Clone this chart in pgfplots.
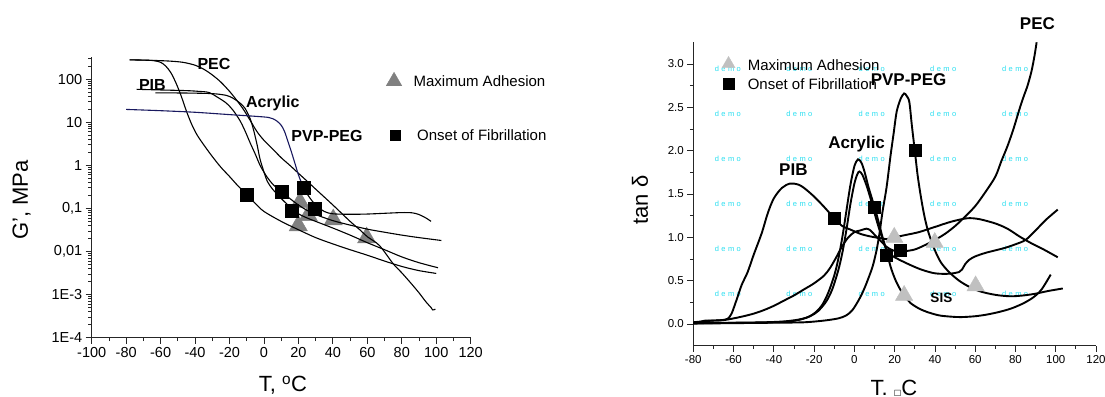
\documentclass[border=0pt]{standalone}
\usepackage{fontspec}
\setmainfont{Liberation Sans}
\newfontfamily\dejavu{DejaVu Sans}
\usepackage{pgfplots}
\pgfplotsset{compat=1.18}
\definecolor{navy}{RGB}{25,25,95}
\definecolor{trileft}{RGB}{128,128,128}
\definecolor{triright}{RGB}{192,192,192}
\definecolor{demo}{RGB}{40,222,240}
\newcommand{\fs}[1]{\fontsize{#1}{#1}\selectfont}
\begin{document}
\begin{tikzpicture}[x=1pt,y=1pt]
\path[use as bounding box] (0,0) rectangle (1105,396);
% watermark text of the right panel
\foreach \xx in {727.9,799.4,871.7,943.2,1015.1}{
  \foreach \yy in {327.3,282.3,237.4,192.3,147.3,102.3}{
    \node[text=demo,font=\fs{7.5}] at (\xx,\yy) {d\hspace{2.4pt}e\hspace{2.4pt}m\hspace{2.4pt}o};
  }
}
% ---------------- left panel ----------------
\begin{axis}[
  at={(91.7pt,58.3pt)}, anchor=south west, scale only axis,
  width=379pt, height=281pt,
  xmin=-100, xmax=120, ymode=log, ymin=1e-4, ymax=331,
  axis x line*=bottom, axis y line*=left,
  xtick={-100,-80,...,120},
  xticklabels={-100,-80,-60,-40,-20,0,20,40,60,80,100,120},
  minor x tick num=1,
  ytick={1e-4,1e-3,0.01,0.1,1,10,100},
  yticklabels={1E-4,1E-3,{0,01},{0,1},1,10,100},
  minor ytick={2e-4,3e-4,4e-4,5e-4,6e-4,7e-4,8e-4,9e-4,
    2e-3,3e-3,4e-3,5e-3,6e-3,7e-3,8e-3,9e-3,
    0.02,0.03,0.04,0.05,0.06,0.07,0.08,0.09,
    0.2,0.3,0.4,0.5,0.6,0.7,0.8,0.9,
    2,3,4,5,6,7,8,9,20,30,40,50,60,70,80,90,200,300},
  tick align=outside, major tick length=6pt, minor tick length=3.5pt,
  every tick/.style={black!85, line width=0.8pt},
  axis line style={black!85, line width=0.8pt},
  ticklabel style={font=\fs{14.5}},
  clip mode=individual,
]
% triangles (behind lines)
\addplot[only marks, mark=triangle*, mark size=10.5pt, trileft] coordinates {
 (20.9,0.14) (25.7,0.069) (19.9,0.04) (40.2,0.055) (59.6,0.021)};
% PEC
\addplot[black, line width=1.1pt, smooth] coordinates {
 (-78,280) (-65,272) (-55,262) (-47,245) (-40,210) (-35,170) (-30,125) (-25,85)
 (-20,52) (-16,33) (-12,20) (-8,11) (-4,6) (0,3.8) (5,2.4) (10,1.5) (15,1.0)
 (21,0.6) (25,0.43) (30,0.28) (40,0.12) (50,0.05) (56,0.031) (60,0.022)
 (67,0.0138) (75,0.0052) (80,0.0032) (85,0.0019) (90,0.0011) (94,0.00068)
 (97,0.0005) (98,0.00044) (99.5,0.00046)};
% early drop curve
\addplot[black, line width=1.1pt, smooth] coordinates {
 (-78,280) (-70,276) (-64,268) (-60,245) (-57,200) (-54,140) (-51,80) (-48,40)
 (-45,18) (-42,9) (-39,5.2) (-35,3) (-30,1.6) (-25,0.9) (-20,0.55) (-15,0.33)
 (-10,0.21) (-5,0.13) (0,0.085) (10,0.05) (20,0.032) (30,0.021) (40,0.015)
 (50,0.011) (60,0.0082) (70,0.006) (80,0.0045) (90,0.0036) (100,0.0031)};
% PIB
\addplot[black, line width=1.1pt, smooth] coordinates {
 (-73.9,58) (-60,56) (-45,54) (-38,52) (-32,49) (-27,38) (-22,28) (-18,19)
 (-14,11) (-11,6.3) (-8,3.3) (-5,1.8) (-2,0.95) (2,0.52) (5.5,0.35) (10,0.25)
 (15,0.17) (20,0.12) (25,0.09) (30,0.072) (40,0.052) (50,0.041) (60,0.033)
 (70,0.028) (80,0.024) (90,0.021) (103,0.018)};
% Acrylic
\addplot[black, line width=1.1pt, smooth] coordinates {
 (-63,48) (-45,47.5) (-30,46) (-22,42) (-18,36) (-14,28) (-11,21) (-8,12)
 (-6,6.5) (-4,3) (-2.3,1.4) (0,0.7) (2,0.42) (5,0.28) (10,0.17) (16,0.1)
 (20,0.075) (25,0.06) (30,0.05) (40,0.035) (50,0.024) (60,0.016) (70,0.011)
 (80,0.0075) (90,0.0055) (101,0.0042)};
% PVP-PEG
\addplot[navy, line width=1.1pt, smooth] coordinates {
 (-80,19.8) (-60,18.5) (-40,17) (-20,15) (-5,13.7) (3,12.8) (7,11) (10,8.5)
 (12,6) (14,3.5) (16,2) (18,1.1) (20,0.6) (21.5,0.42) (23,0.3)};
\addplot[black, line width=1.1pt, smooth] coordinates {
 (23,0.3) (26,0.19) (30,0.12) (35,0.085) (40,0.075) (50,0.073) (60,0.074)
 (70,0.077) (80,0.08) (86,0.079) (90,0.072) (94,0.06) (97,0.05)};
% squares
\addplot[only marks, mark=square*, mark size=6.5pt, black] coordinates {
 (-10,0.21) (10.3,0.25) (16.1,0.089) (22.8,0.3) (29.6,0.1)};
% legend markers
\addplot[only marks, mark=triangle*, mark size=9pt, trileft] coordinates {(75.5,89)};
\addplot[only marks, mark=square*, mark size=5pt, black] coordinates {(76.1,5.0)};
\node[anchor=west, font=\fs{15}] at (axis cs:84.8,89) {Maximum Adhesion};
\node[anchor=west, font=\fs{15}] at (axis cs:86.9,5.0) {Onset of Fibrillation};
% curve labels
\node[font=\bfseries\fs{16}] at (axis cs:-29,224) {PEC};
\node[font=\bfseries\fs{16}] at (axis cs:-64.8,72) {PIB};
\node[font=\bfseries\fs{16}] at (axis cs:5.1,27.5) {Acrylic};
\node[font=\bfseries\fs{16}] at (axis cs:36.6,4.8) {PVP-PEG};
\end{axis}
\node[rotate=90, font=\fs{22}] at (21.6,196) {G', MPa};
\node[anchor=base, font=\fs{22}] at (283,4.3) {T, \textsuperscript{o}C};
% ---------------- right panel ----------------
\begin{axis}[
  at={(693.3pt,50.3pt)}, anchor=south west, scale only axis,
  width=402.7pt, height=303.4pt,
  xmin=-80, xmax=120, ymin=-0.25, ymax=3.25,
  axis x line*=bottom, axis y line*=left,
  xtick={-80,-60,...,120},
  xticklabels={-80,-60,-40,-20,0,20,40,60,80,100,120},
  minor x tick num=1,
  ytick={0,0.5,1,1.5,2,2.5,3},
  yticklabels={0.0,0.5,1.0,1.5,2.0,2.5,3.0},
  minor y tick num=1,
  tick align=outside, major tick length=6pt, minor tick length=3.5pt,
  every tick/.style={black!85, line width=0.8pt},
  axis line style={black!85, line width=0.8pt},
  ticklabel style={font=\fs{11.5}},
  clip mode=individual,
]
% PIB
\addplot[black, line width=1.9pt, smooth] coordinates {
 (-80,0.02) (-76,0.03) (-74,0.04) (-70,0.04) (-66,0.045) (-63,0.06) (-61,0.12)
 (-58.5,0.28) (-56,0.45) (-53,0.6) (-50,0.8) (-46,1.05) (-43,1.28) (-40,1.45)
 (-36,1.57) (-32,1.62) (-28,1.61) (-25,1.57) (-20,1.47) (-15,1.35) (-10,1.22)
 (-6,1.13) (-2,1.09) (3,1.04) (8,1.01) (13,0.99) (16,0.98) (20,1.0) (26,1.03)
 (32,1.06) (40,1.12) (48,1.18) (56,1.22) (62,1.21) (70,1.16) (76,1.1) (82,1.01)
 (88,0.93) (94,0.86) (101,0.77)};
% Acrylic 1
\addplot[black, line width=1.9pt, smooth] coordinates {
 (-80,0.01) (-60,0.015) (-45,0.02) (-35,0.03) (-28,0.05) (-23,0.08) (-19,0.14)
 (-16,0.22) (-13,0.36) (-10,0.56) (-8,0.75) (-6,1.0) (-4,1.3) (-2,1.6) (0,1.82)
 (1.8,1.9) (3.5,1.86) (5,1.76) (7,1.58) (10,1.35) (12,1.18) (14,1.0) (16,0.84)
 (18,0.66) (20,0.53) (22,0.43) (25,0.32) (28,0.24) (32,0.18) (36,0.14) (42,0.1)
 (48,0.085) (53,0.08) (60,0.09) (66,0.11) (72,0.14) (78,0.18) (84,0.24)
 (89,0.31) (93,0.4) (97.5,0.57)};
% Acrylic 2
\addplot[black, line width=1.9pt, smooth] coordinates {
 (-80,0.01) (-50,0.015) (-35,0.025) (-28,0.045) (-22,0.09) (-18,0.15) (-14,0.26)
 (-11,0.4) (-8,0.62) (-6,0.82) (-4,1.08) (-2,1.38) (0,1.62) (1.5,1.73) (2.5,1.76)
 (4,1.72) (6,1.6) (8,1.45) (10,1.28) (12,1.12) (14,0.98) (15.5,0.88) (17,0.82)
 (20,0.77) (26,0.7) (33,0.63) (40,0.585) (47,0.58) (52,0.6) (53.5,0.63)
 (55,0.69) (57,0.74) (60,0.78) (65,0.82) (70,0.85) (75,0.88) (80,0.92)
 (85,0.97) (90,1.08) (95,1.2) (101,1.32)};
% PEC
\addplot[black, line width=1.9pt, smooth] coordinates {
 (-80,0.01) (-75,0.03) (-70,0.04) (-65,0.045) (-60,0.065) (-55,0.09) (-50,0.12)
 (-45,0.16) (-40,0.21) (-35,0.27) (-30,0.33) (-25,0.4) (-20,0.47) (-15,0.56)
 (-12,0.65) (-9,0.77) (-6,0.9) (-3,1.0) (0,1.06) (3,1.08) (6,1.1) (8,1.08)
 (10,1.03) (13,0.96) (16,0.89) (19,0.85) (22,0.84) (25,0.84) (30,0.86)
 (35,0.91) (40,0.97) (45,1.04) (50,1.13) (55,1.24) (60,1.36) (65,1.52) (70,1.7)
 (73,1.88) (76,2.05) (79,2.25) (82,2.48) (84,2.62) (86,2.75) (88,2.92)
 (89.5,3.1) (90.5,3.25)};
% PVP-PEG
\addplot[black, line width=1.9pt, smooth] coordinates {
 (-80,0.005) (-60,0.01) (-40,0.015) (-25,0.02) (-15,0.04) (-8,0.065) (-4,0.1)
 (-1,0.16) (2,0.27) (4,0.36) (6,0.47) (9,0.66) (11,0.85) (12.5,1.05) (14,1.3)
 (16,1.58) (18,1.95) (19.5,2.2) (21,2.45) (23,2.6) (24.7,2.66) (26,2.63)
 (27.3,2.56) (28.5,2.3) (30,2.0) (31.5,1.7) (33.3,1.43) (35,1.22) (37,1.04)
 (40,0.85) (43,0.71) (47,0.6) (52,0.5) (57,0.43) (62,0.38) (67,0.35) (72,0.33)
 (78,0.32) (84,0.33) (90,0.35) (96,0.38) (103.5,0.41)};
% triangles
\addplot[only marks, mark=triangle*, mark size=10pt, triright] coordinates {
 (19.8,1.0) (24.7,0.33) (39.9,0.94) (60.2,0.44)};
% squares
\addplot[only marks, mark=square*, mark size=6pt, black] coordinates {
 (-10,1.22) (10,1.35) (16,0.79) (22.9,0.85) (30.2,2.01)};
% legend markers
\addplot[only marks, mark=triangle*, mark size=7.5pt, triright] coordinates {(-62.5,3.0)};
\addplot[only marks, mark=square*, mark size=5.5pt, black] coordinates {(-62.5,2.77)};
\node[anchor=west, font=\fs{15}] at (axis cs:-54.7,2.99) {Maximum Adhesion};
\node[anchor=west, font=\fs{15}] at (axis cs:-54.7,2.77) {Onset of Fibrillation};
% curve labels
\node[font=\bfseries\fs{17}] at (axis cs:-30.3,1.78) {PIB};
\node[font=\bfseries\fs{17}] at (axis cs:1.1,2.07) {Acrylic};
\node[font=\bfseries\fs{17}] at (axis cs:26.9,2.82) {PVP-PEG};
\node[font=\bfseries\fs{13.5}] at (axis cs:43.2,0.30) {SIS};
\node[font=\bfseries\fs{17}] at (axis cs:90.9,3.47) {PEC};
\end{axis}
\node[rotate=90, font=\fs{22}] at (640,196) {tan δ};
\node[anchor=base, font=\fs{22}] at (894,0.5) {T. {\dejavu\fs{8}□}C};
\end{tikzpicture}
\end{document}
